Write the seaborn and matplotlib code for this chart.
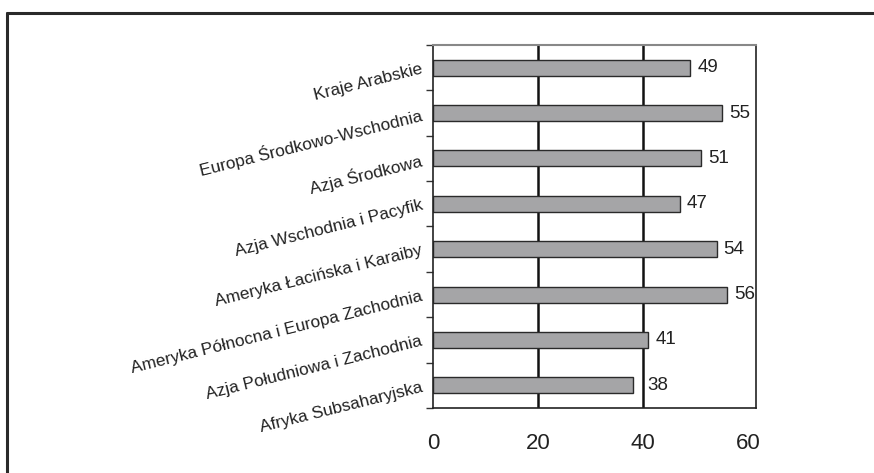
import matplotlib
matplotlib.use("Agg")
import matplotlib.pyplot as plt
import seaborn as sns
import pandas as pd
from matplotlib.lines import Line2D

regions = [
    "Kraje Arabskie",
    "Europa Środkowo-Wschodnia",
    "Azja Środkowa",
    "Azja Wschodnia i Pacyfik",
    "Ameryka Łacińska i Karaiby",
    "Ameryka Północna i Europa Zachodnia",
    "Azja Południowa i Zachodnia",
    "Afryka Subsaharyjska",
]
values = [49, 55, 51, 47, 54, 56, 41, 38]
xticks = [0, 20, 40, 60]

df = pd.DataFrame({"region": regions, "value": values})

sns.set_theme(style="white")
plt.rcParams["font.family"] = ["Liberation Sans", "DejaVu Sans"]

fig = plt.figure(figsize=(8.74, 4.73), dpi=100)
ax = fig.add_axes([433 / 874, 1 - 408 / 473, (756 - 433) / 874, (408 - 45) / 473])

sns.barplot(data=df, y="region", x="value", orient="h", ax=ax,
            color="#a5a5a7", edgecolor="#2a2a2a", linewidth=1.0,
            width=0.35, saturation=1)

ax.set_xlim(0, 61.5)
ax.set_ylim(len(regions) - 0.5, -0.5)

for g in [20, 40]:
    ax.axvline(g, color="#111111", lw=1.8, zorder=0)

ax.set_xticks(xticks)
ax.set_xticklabels([str(t) for t in xticks], fontsize=16, color="#222222")
ax.tick_params(axis="x", direction="out", length=6, width=1, color="#333333", pad=12)

# y ticks at category boundaries
ax.set_yticks([i - 0.5 for i in range(len(regions) + 1)], minor=False)
ax.set_yticklabels([])
ax.set_yticks(range(len(regions)), minor=True)
ax.set_yticklabels(regions, minor=True)
ax.tick_params(axis="y", which="major", direction="out", length=5, width=1, color="#333333", left=True)
ax.tick_params(axis="y", which="minor", length=0, pad=8)
for lab in ax.get_yticklabels(minor=True):
    lab.set_rotation(14)
    lab.set_rotation_mode("anchor")
    lab.set_ha("right")
    lab.set_va("center_baseline")
    lab.set_fontsize(12.4)
    lab.set_color("#222222")

ax.set_xlabel("")
ax.set_ylabel("")

for s in ["left", "bottom", "right"]:
    ax.spines[s].set_visible(True)
    ax.spines[s].set_color("#222222")
    ax.spines[s].set_linewidth(1.2)
ax.spines["top"].set_visible(True)
ax.spines["top"].set_color("#888888")
ax.spines["top"].set_linewidth(1.5)

# value labels (nudged past the 40 gridline when the bar ends just before it)
for patch, v in zip(ax.patches, values):
    xe = patch.get_x() + patch.get_width()
    yc = patch.get_y() + patch.get_height() / 2
    pad = 15 if 36 <= v < 40 else 7
    ax.annotate(str(v), (xe, yc), xytext=(pad, 0), textcoords="offset pixels",
                ha="left", va="center", fontsize=13.5, color="#222222")

# figure frame (top and left)
y_top = 1 - 13 / 473
x_left = 7 / 874
fig.add_artist(Line2D([x_left, 1.0], [y_top, y_top], transform=fig.transFigure, color="#2a2a2a", lw=2.2))
fig.add_artist(Line2D([x_left, x_left], [0, y_top], transform=fig.transFigure, color="#2a2a2a", lw=2.2))

fig.savefig("out.png", dpi=100)
